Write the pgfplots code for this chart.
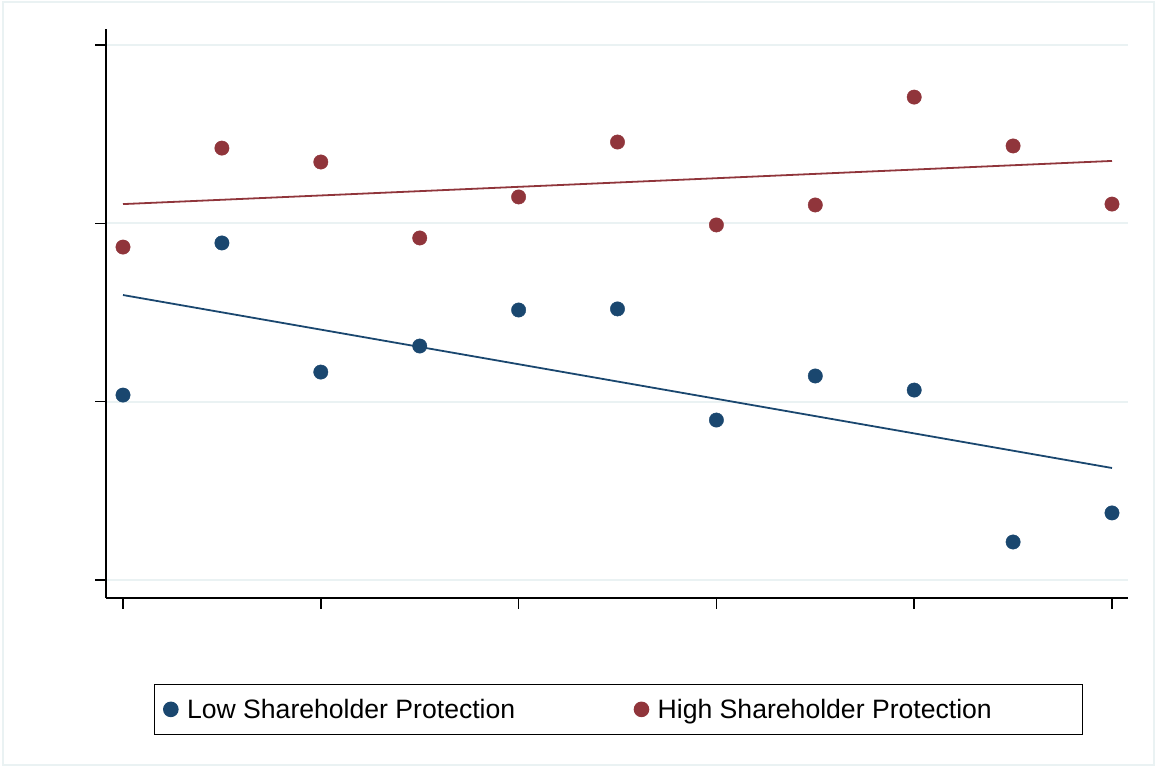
\documentclass[border=0pt]{standalone}
\usepackage{pgfplots}
\pgfplotsset{compat=1.18}
\usepackage{fontspec}
\setmainfont{Liberation Sans}
\definecolor{sblue}{HTML}{1A476F}
\definecolor{sred}{HTML}{90353B}
\definecolor{sgrid}{HTML}{EAF2F3}
\begin{document}
\begin{tikzpicture}[x=1bp,y=1bp]
\path (0,0) rectangle (1156,767);
\draw[sgrid, line width=2bp] (3,2) rectangle (1154,765);
\begin{axis}[
  at={(106bp,169bp)}, anchor=south west,
  scale only axis, width=1022bp, height=569bp,
  xmin=-0.172, xmax=10.162, ymin=-0.101, ymax=3.090,
  axis x line*=bottom, axis y line*=left,
  axis line style={line width=1.6bp, black},
  xtick={0,2,...,10}, ytick={0,1,2,3},
  xticklabels={}, yticklabels={},
  tick align=outside, major tick length=11bp,
  tick style={line width=1.6bp, black},
  ymajorgrids, grid style={sgrid, line width=2.2bp},
  legend columns=2,
  legend style={at={(axis description cs:0.047,-0.2405)}, anchor=south west,
    draw=black, line width=1.2bp, font=\fontsize{26.7}{30}\selectfont,
    inner xsep=9bp, inner ysep=12.5bp,
    /tikz/every odd column/.append style={column sep=7bp},
    /tikz/every even column/.append style={column sep=117bp}},
  legend image code/.code={\path[#1] plot coordinates {(9bp,0bp)};},
]
\addplot[only marks, mark=*, mark size=7.2bp, sblue, mark options={draw=sblue, fill=sblue}] coordinates {
(0,1.037)(1,1.890)(2,1.166)(3,1.312)(4,1.514)(5,1.520)(6,0.897)(7,1.144)(8,1.065)(9,0.213)(10,0.376)};
\addlegendentry{Low Shareholder Protection}
\addplot[only marks, mark=*, mark size=7.2bp, sred, mark options={draw=sred, fill=sred}] coordinates {
(0,1.867)(1,2.422)(2,2.344)(3,1.918)(4,2.148)(5,2.456)(6,1.991)(7,2.103)(8,2.708)(9,2.434)(10,2.108)};
\addlegendentry{High Shareholder Protection\hspace*{80bp}\mbox{}}
\addplot[forget plot, sblue, line width=1.8bp] coordinates {(0,1.598)(10,0.628)};
\addplot[forget plot, sred, line width=1.8bp] coordinates {(0,2.108)(10,2.350)};
\end{axis}
\end{tikzpicture}
\end{document}
